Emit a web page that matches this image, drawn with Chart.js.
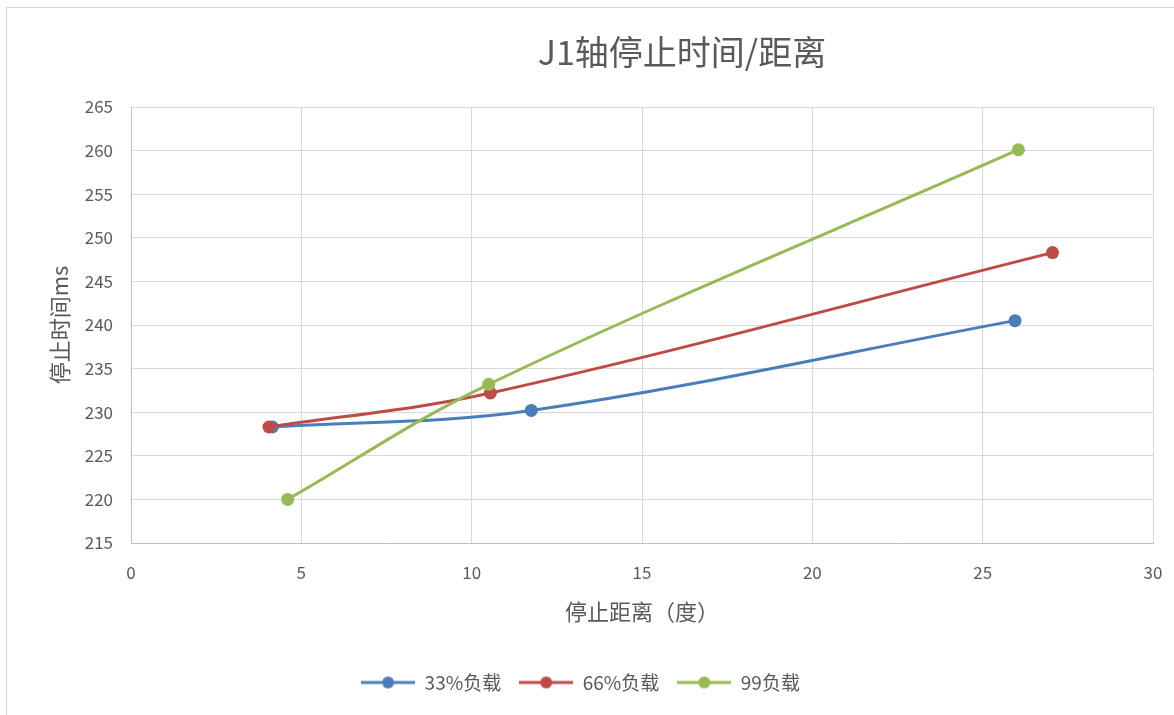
<!DOCTYPE html>
<html>
<head>
<meta charset="utf-8">
<script src="https://cdn.jsdelivr.net/npm/chart.js@4/dist/chart.umd.min.js"></script>
<style>
  html, body { margin: 0; padding: 0; background: #fff; }
  #wrap { width: 1174px; height: 715px; }
</style>
</head>
<body>
<div id="wrap"><canvas id="chart" width="1174" height="715"></canvas></div>
<script>
// chart data
const seriesNames = ['33%负载', '66%负载', '99负载']
const distance33 = [4.15, 11.75, 25.95]
const time33 = [228.3, 230.2, 240.5]
const distance66 = [4.05, 10.55, 27.05]
const time66 = [228.3, 232.2, 248.3]
const distance99 = [4.6, 10.5, 26.05]
const time99 = [220.0, 233.2, 260.1]
const xTicks = [0, 5, 10, 15, 20, 25, 30]
const yTicks = [215, 220, 225, 230, 235, 240, 245, 250, 255, 260, 265]

const colors = ['#4a7ebb', '#be4b48', '#98b954']
const FONT = "'Noto Sans CJK SC', 'Noto Sans', sans-serif"
const TEXT = '#595959'

const toPoints = (xs, ys) => xs.map((x, i) => ({ x, y: ys[i] }))

// legend marker: short line with a dot in the middle, like Excel
const legendMarker = (color) => {
  const c = document.createElement('canvas')
  c.width = 54
  c.height = 14
  const g = c.getContext('2d')
  g.strokeStyle = color
  g.lineWidth = 3
  g.beginPath()
  g.moveTo(0, 7)
  g.lineTo(54, 7)
  g.stroke()
  g.fillStyle = color
  g.beginPath()
  g.arc(27, 7, 6, 0, Math.PI * 2)
  g.fill()
  return c
}

const allSeries = [
  [distance33, time33],
  [distance66, time66],
  [distance99, time99]
]

const datasets = allSeries.map(([xs, ys], i) => ({
  label: seriesNames[i],
  data: toPoints(xs, ys),
  borderColor: colors[i],
  backgroundColor: colors[i],
  borderWidth: 3,
  pointRadius: 6.5,
  pointHoverRadius: 6.5,
  pointBorderWidth: 0,
  pointStyle: 'circle',
  legendStyle: legendMarker(colors[i]),
  tension: 0.35,
  showLine: true,
  order: 3 - i // later series drawn on top, as in the original
}))

// title and outer frame
const decorPlugin = {
  id: 'decor',
  beforeDraw(chart) {
    const ctx = chart.ctx
    ctx.save()
    ctx.strokeStyle = '#d9d9d9'
    ctx.lineWidth = 1
    ctx.strokeRect(6.5, 7.5, 1200, 800)
    ctx.fillStyle = TEXT
    ctx.font = `34px ${FONT}`
    ctx.textAlign = 'center'
    ctx.textBaseline = 'middle'
    ctx.fillText('J1轴停止时间/距离', 682, 52)
    ctx.restore()
  }
}

new Chart(document.getElementById('chart'), {
  type: 'scatter',
  data: { datasets },
  options: {
    responsive: false,
    animation: false,
    layout: { padding: { top: 107, left: 8, right: 21, bottom: 13 } },
    plugins: {
      tooltip: { enabled: false },
      legend: {
        position: 'bottom',
        labels: {
          font: { family: FONT, size: 19 },
          color: TEXT,
          usePointStyle: true,
          pointStyleWidth: 54,
          padding: 18,
          generateLabels(chart) {
            return chart.data.datasets.map((ds, i) => ({
              text: ds.label,
              fillStyle: ds.backgroundColor,
              strokeStyle: ds.borderColor,
              lineWidth: 0,
              pointStyle: ds.legendStyle,
              fontColor: TEXT,
              hidden: false,
              datasetIndex: i
            }))
          }
        }
      }
    },
    scales: {
      x: {
        type: 'linear',
        min: 0,
        max: 30,
        afterBuildTicks: (scale) => { scale.ticks = xTicks.map(v => ({ value: v })) },
        afterFit: (scale) => {
          scale.height = 112
          scale.paddingLeft = 0
          scale.paddingRight = 0
        },
        grid: { color: '#d9d9d9', drawTicks: false },
        border: { color: '#bfbfbf' },
        ticks: { font: { family: FONT, size: 17 }, color: TEXT, padding: 19 },
        title: {
          display: true,
          text: '停止距离（度）',
          font: { family: FONT, size: 22 },
          color: TEXT,
          padding: { top: 0, bottom: 30 }
        }
      },
      y: {
        type: 'linear',
        min: 215,
        max: 265,
        afterBuildTicks: (scale) => { scale.ticks = yTicks.map(v => ({ value: v })) },
        afterFit: (scale) => { scale.width = 123 },
        grid: { color: '#d9d9d9', drawTicks: false },
        border: { color: '#bfbfbf' },
        ticks: { font: { family: FONT, size: 17 }, color: TEXT, padding: 18 },
        title: {
          display: true,
          text: '停止时间ms',
          font: { family: FONT, size: 22 },
          color: TEXT,
          padding: { top: 38, bottom: 0 }
        }
      }
    }
  },
  plugins: [decorPlugin]
})
</script>
</body>
</html>
